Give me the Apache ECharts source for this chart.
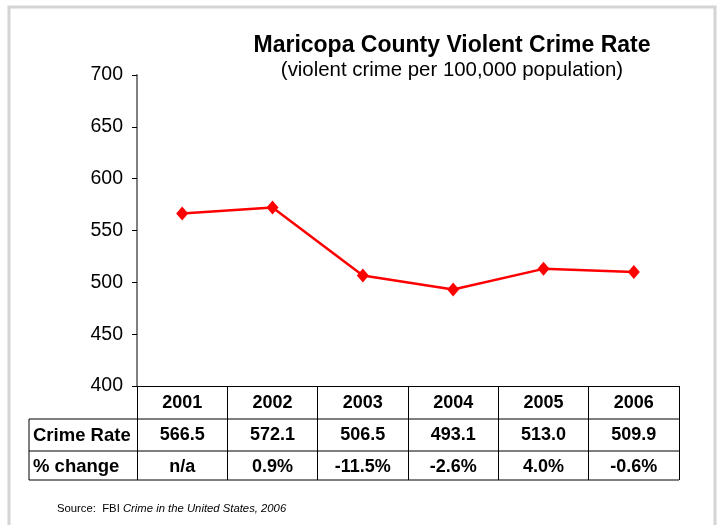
<!DOCTYPE html>
<html>
<head>
<meta charset="utf-8">
<script src="https://cdn.jsdelivr.net/npm/echarts@6/dist/echarts.min.js"></script>
<style>
html,body{margin:0;padding:0;background:#fff;}
#c{width:720px;height:525px;}
</style>
</head>
<body>
<div id="c"></div>
<script>
const years = ['2001','2002','2003','2004','2005','2006'];
const crimeRate = [566.5, 572.1, 506.5, 493.1, 513.0, 509.9];
const crimeRateText = ['566.5','572.1','506.5','493.1','513.0','509.9'];
const pctChange = ['n/a','0.9%','-11.5%','-2.6%','4.0%','-0.6%'];
const rowLabels = ['Crime Rate','% change'];

const FONT = '"Liberation Sans", Arial, sans-serif';
const chart = echarts.init(document.getElementById('c'), null, {renderer:'canvas'});

const gridLeft = 137, gridRight = 679, gridTop = 75, gridBottom = 386;
const rowY = [386, 419, 451, 480];
const tableLeft = 29;

const graphics = [
  {type:'rect', shape:{x:9, y:7, width:706, height:540}, style:{fill:'none', stroke:'#d4d4d4', lineWidth:3}, silent:true},
  {type:'line', shape:{x1:tableLeft, y1:rowY[1], x2:gridRight, y2:rowY[1]}, style:{stroke:'#000', lineWidth:1}},
  {type:'line', shape:{x1:tableLeft, y1:rowY[2], x2:gridRight, y2:rowY[2]}, style:{stroke:'#000', lineWidth:1}},
  {type:'line', shape:{x1:tableLeft, y1:rowY[3], x2:gridRight, y2:rowY[3]}, style:{stroke:'#000', lineWidth:1}},
  {type:'line', shape:{x1:tableLeft, y1:rowY[1], x2:tableLeft, y2:rowY[3]}, style:{stroke:'#000', lineWidth:1}},
  {type:'text', x:33, y:(rowY[1]+rowY[2])/2+1, style:{text:rowLabels[0], font:'bold 18.5px '+FONT, fill:'#000', verticalAlign:'middle'}},
  {type:'text', x:33, y:(rowY[2]+rowY[3])/2+1, style:{text:rowLabels[1], font:'bold 18.5px '+FONT, fill:'#000', verticalAlign:'middle'}},
  {type:'text', x:57, y:509, style:{
    text:'{n|Source:  FBI }{i|Crime in the United States, 2006}',
    rich:{n:{fontSize:11.3, fontFamily:FONT, fill:'#000'}, i:{fontSize:11.3, fontFamily:FONT, fontStyle:'italic', fill:'#000'}},
    verticalAlign:'middle'}}
];

chart.setOption({
  animation:false,
  backgroundColor:'#fff',
  title:{
    text:'Maricopa County Violent Crime Rate',
    subtext:'(violent crime per 100,000 population)',
    left:447, top:29, textAlign:'center', itemGap:3,
    textStyle:{fontFamily:FONT, fontSize:23, fontWeight:'bold', color:'#000'},
    subtextStyle:{fontFamily:FONT, fontSize:20.4, color:'#000'}
  },
  grid:{left:gridLeft, right:720-gridRight, top:gridTop, bottom:525-gridBottom, containLabel:false},
  xAxis:{
    type:'category', data:years, boundaryGap:true,
    axisLine:{lineStyle:{color:'#000', width:1}},
    axisTick:{show:true, interval:0, length:rowY[3]-rowY[0], lineStyle:{color:'#000', width:1}},
    axisLabel:{
      interval:0, margin:1,
      formatter:function(v, i){ return '{t|'+v+'}\n{t|'+crimeRateText[i]+'}\n{t|'+pctChange[i]+'}'; },
      rich:{t:{fontFamily:FONT, fontSize:18, fontWeight:'bold', color:'#000', lineHeight:32, align:'center'}}
    }
  },
  yAxis:{
    type:'value', min:400, max:700, interval:50,
    axisLine:{show:true, lineStyle:{color:'#808080', width:2}},
    axisTick:{show:true, length:5, lineStyle:{color:'#000', width:1}},
    axisLabel:{fontFamily:FONT, fontSize:19.5, color:'#000', margin:14},
    splitLine:{show:false}
  },
  series:[{
    type:'line', data:crimeRate,
    symbol:'diamond', symbolSize:[12,14],
    lineStyle:{color:'#FF0000', width:2.5},
    itemStyle:{color:'#FF0000'}
  }],
  graphic:graphics
});
</script>
</body>
</html>
